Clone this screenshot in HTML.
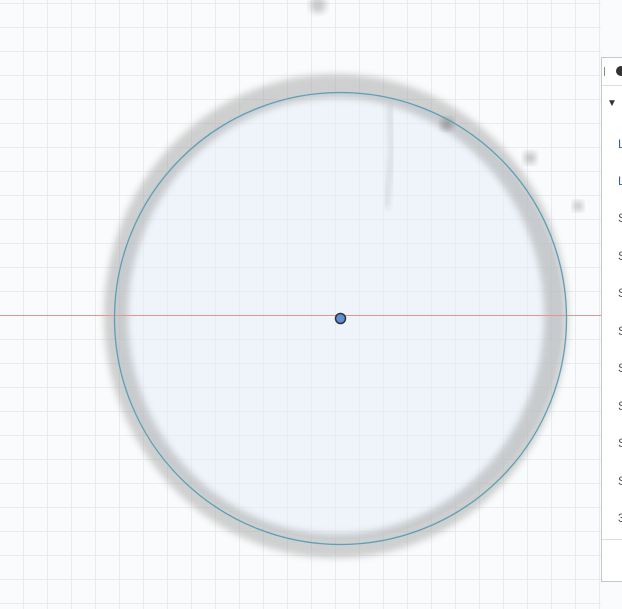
<!DOCTYPE html>
<html><head><meta charset="utf-8"><style>
html,body{margin:0;padding:0;background:#fafbfc;}
#c{position:relative;width:622px;height:609px;overflow:hidden;font-family:"Liberation Sans",sans-serif;}
.panel{position:absolute;left:601px;top:57px;width:30px;height:525px;background:#fff;border:1px solid #c8c8c8;box-sizing:border-box;}
.row{position:absolute;left:16px;font-size:12px;color:#555;}
</style></head><body>
<div id="c">
<svg width="622" height="609" style="position:absolute;left:0;top:0">
<defs>
<filter id="blur" x="-20%" y="-20%" width="140%" height="140%"><feGaussianBlur stdDeviation="3.5"/></filter>
</defs>
<rect width="622" height="609" fill="#fafbfc"/>
<circle cx="338" cy="316" r="224" fill="#eef4fa"/>
<g id="grid" stroke="#e9ecef" stroke-width="1"></g>
<ellipse cx="336" cy="316" rx="220" ry="230" fill="none" stroke="#9a9a9a" stroke-width="24" opacity="0.45" filter="url(#blur)"/>
<circle cx="318" cy="5" r="8" fill="#999" opacity="0.5" filter="url(#blur)"/>
<circle cx="447" cy="124" r="6" fill="#777" opacity="0.6" filter="url(#blur)"/>
<circle cx="530" cy="158" r="6" fill="#888" opacity="0.5" filter="url(#blur)"/>
<circle cx="578" cy="206" r="5" fill="#888" opacity="0.5" filter="url(#blur)"/>
<path d="M390 105 L392 150 L386 208" stroke="#999" stroke-width="4" fill="none" opacity="0.4" filter="url(#blur)"/>
<line x1="0" y1="315.5" x2="601" y2="315.5" stroke="#e89494" stroke-width="1"/>
<circle cx="340.5" cy="318.5" r="226" fill="none" stroke="#5b9fb8" stroke-width="1.3"/>
<circle cx="340.5" cy="318.5" r="5" fill="#5f8fd6" stroke="#333" stroke-width="1.5"/>
</svg>
<div class="panel">
<div style="position:absolute;left:0;top:0;width:30px;height:27px;border-bottom:1px solid #ddd;"></div>
<div style="position:absolute;left:2px;top:9px;width:1px;height:9px;background:#888"></div>
<div style="position:absolute;left:14px;top:8px;width:10px;height:10px;border-radius:50%;background:#333"></div>
<div class="row" style="left:5px;top:40px;font-size:10px;color:#333">▼</div>
<div class="row" style="top:79px;color:#3a5fa0">L</div>
<div class="row" style="top:116px;color:#3a5fa0">L</div>
<div class="row" style="top:153px">S</div>
<div class="row" style="top:191px">S</div>
<div class="row" style="top:228px">S</div>
<div class="row" style="top:266px">S</div>
<div class="row" style="top:303px">S</div>
<div class="row" style="top:341px">S</div>
<div class="row" style="top:378px">S</div>
<div class="row" style="top:416px">S</div>
<div class="row" style="top:453px">3</div>
<div style="position:absolute;left:0;top:481px;width:30px;height:1px;background:#ddd"></div>
</div>
</div>
<script>
var g=document.getElementById('grid');
for(var x=23;x<601;x+=24){var l=document.createElementNS('http://www.w3.org/2000/svg','line');


l.setAttribute('x1',x+.5);l.setAttribute('x2',x+.5);l.setAttribute('y1',0);l.setAttribute('y2',609);g.appendChild(l);}
for(var y=3;y<609;y+=24){if(y==315)continue;var l=document.createElementNS('http://www.w3.org/2000/svg','line');


l.setAttribute('y1',y+.5);l.setAttribute('y2',y+.5);l.setAttribute('x1',0);l.setAttribute('x2',601);g.appendChild(l);}
</script>
</body></html>
